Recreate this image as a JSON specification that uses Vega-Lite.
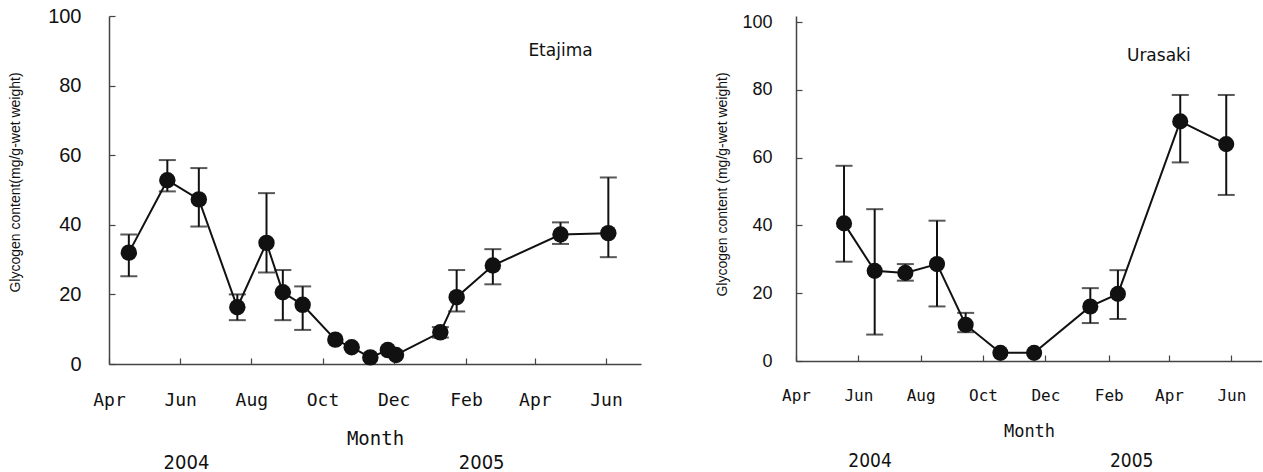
{
  "$schema": "https://vega.github.io/schema/vega-lite/v6.json",
  "background": "white",
  "padding": {"left": 8, "top": 6, "right": 0, "bottom": 0},
  "spacing": 74,
  "config": {
    "view": {"stroke": null},
    "axis": {"grid": false, "domainColor": "#444", "tickColor": "#444", "domainWidth": 1.5, "tickWidth": 1.2, "labelColor": "#111", "titleColor": "#111", "titleFontWeight": "normal"}
  },
  "datasets": {
    "etajima": [
      {"date": "2004-04-18", "mean": 32.0, "lo": 25.2, "hi": 37.2},
      {"date": "2004-05-21", "mean": 52.8, "lo": 49.6, "hi": 58.6},
      {"date": "2004-06-17", "mean": 47.3, "lo": 39.5, "hi": 56.3},
      {"date": "2004-07-20", "mean": 16.3, "lo": 12.6, "hi": 20.0},
      {"date": "2004-08-14", "mean": 34.8, "lo": 26.3, "hi": 49.1},
      {"date": "2004-08-28", "mean": 20.6, "lo": 12.6, "hi": 27.0},
      {"date": "2004-09-14", "mean": 17.0, "lo": 9.8, "hi": 22.3},
      {"date": "2004-10-12", "mean": 7.0, "lo": null, "hi": null},
      {"date": "2004-10-26", "mean": 4.8, "lo": null, "hi": null},
      {"date": "2004-11-11", "mean": 1.9, "lo": null, "hi": null},
      {"date": "2004-11-26", "mean": 4.0, "lo": null, "hi": null},
      {"date": "2004-12-03", "mean": 2.6, "lo": null, "hi": null},
      {"date": "2005-01-10", "mean": 9.1, "lo": 7.6, "hi": 10.6},
      {"date": "2005-01-24", "mean": 19.2, "lo": 15.1, "hi": 27.0},
      {"date": "2005-02-24", "mean": 28.3, "lo": 22.9, "hi": 33.0},
      {"date": "2005-04-23", "mean": 37.2, "lo": 34.5, "hi": 40.7},
      {"date": "2005-06-03", "mean": 37.6, "lo": 30.7, "hi": 53.6}
    ],
    "urasaki": [
      {"date": "2004-05-18", "mean": 40.6, "lo": 29.3, "hi": 57.6},
      {"date": "2004-06-17", "mean": 26.6, "lo": 7.8, "hi": 44.8},
      {"date": "2004-07-17", "mean": 26.0, "lo": 23.7, "hi": 28.6},
      {"date": "2004-08-17", "mean": 28.6, "lo": 16.1, "hi": 41.4},
      {"date": "2004-09-14", "mean": 10.7, "lo": 8.5, "hi": 14.2},
      {"date": "2004-10-18", "mean": 2.4, "lo": null, "hi": null},
      {"date": "2004-11-20", "mean": 2.4, "lo": null, "hi": null},
      {"date": "2005-01-14", "mean": 16.1, "lo": 11.2, "hi": 21.5},
      {"date": "2005-02-10", "mean": 19.8, "lo": 12.4, "hi": 26.8},
      {"date": "2005-04-12", "mean": 70.7, "lo": 58.6, "hi": 78.5},
      {"date": "2005-05-27", "mean": 64.0, "lo": 49.0, "hi": 78.5}
    ],
    "site_eta": [{"date": "2005-04-23", "y": 90, "site": "Etajima"}],
    "site_ura": [{"date": "2005-03-22", "y": 90, "site": "Urasaki"}],
    "years_eta": [{"date": "2004-06-06", "year": "2004"}, {"date": "2005-02-14", "year": "2005"}],
    "years_ura": [{"date": "2004-06-12", "year": "2004"}, {"date": "2005-02-23", "year": "2005"}]
  },
  "hconcat": [
    {
      "width": 532,
      "height": 348,
      "layer": [
        {
          "encoding": {
            "x": {
              "field": "date", "type": "temporal",
              "scale": {"domain": ["2004-04-01T00:00:00", "2005-07-01T00:00:00"]},
              "axis": {
                "title": "Month", "format": "%b",
                "values": [{"year": 2004, "month": 4, "date": 1}, {"year": 2004, "month": 6, "date": 1}, {"year": 2004, "month": 8, "date": 1}, {"year": 2004, "month": 10, "date": 1}, {"year": 2004, "month": 12, "date": 1}, {"year": 2005, "month": 2, "date": 1}, {"year": 2005, "month": 4, "date": 1}, {"year": 2005, "month": 6, "date": 1}],
                "tickSize": -6, "labelPadding": 33, "labelFont": "DejaVu Sans Mono", "labelFontSize": 18,
                "titleFont": "DejaVu Sans Mono", "titleFontSize": 19, "titlePadding": 20, "labelFlush": false, "labelOverlap": false
              }
            }
          },
          "layer": [
            {
              "data": {"name": "etajima"},
              "transform": [{"filter": "isValid(datum.lo)"}],
              "mark": {"type": "errorbar", "color": "#111", "ticks": {"size": 17, "thickness": 2}, "rule": {"strokeWidth": 2}},
              "encoding": {
                "y": {
                  "field": "lo", "type": "quantitative",
                  "scale": {"domain": [0, 100]},
                  "axis": {
                    "title": "Glycogen content(mg/g-wet weight)", "values": [0, 20, 40, 60, 80, 100],
                    "tickSize": -6, "labelPadding": 34, "labelFont": "Liberation Sans", "labelFontSize": 20,
                    "titleFont": "Liberation Sans", "titleFontSize": 14, "titlePadding": 25, "titleY": 166
                  }
                },
                "y2": {"field": "hi"}
              }
            },
            {
              "data": {"name": "etajima"},
              "mark": {"type": "line", "color": "#111", "strokeWidth": 2},
              "encoding": {"y": {"field": "mean", "type": "quantitative", "axis": {"title": "Glycogen content(mg/g-wet weight)"}}}
            },
            {
              "data": {"name": "etajima"},
              "mark": {"type": "point", "filled": true, "opacity": 1, "color": "#111", "size": 270},
              "encoding": {"y": {"field": "mean", "type": "quantitative", "axis": {"title": "Glycogen content(mg/g-wet weight)"}}}
            },
            {
              "data": {"name": "site_eta"},
              "mark": {"type": "text", "font": "DejaVu Sans", "fontSize": 17, "color": "#111"},
              "encoding": {"y": {"field": "y", "type": "quantitative", "axis": {"title": "Glycogen content(mg/g-wet weight)"}}, "text": {"field": "site"}}
            }
          ]
        },
        {
          "data": {"name": "years_eta"},
          "mark": {"type": "text", "opacity": 0},
          "encoding": {
            "x": {
              "field": "date", "type": "temporal",
              "axis": {
                "orient": "bottom", "title": null, "domain": false, "ticks": false,
                "values": [{"year": 2004, "month": 6, "date": 6}, {"year": 2005, "month": 2, "date": 14}],
                "labelExpr": "timeFormat(datum.value, '%Y')", "labelPadding": 88,
                "labelFont": "DejaVu Sans Condensed, Liberation Sans", "labelFontSize": 20, "labelFlush": false
              }
            },
            "text": {"field": "year"}
          }
        }
      ],
      "resolve": {"axis": {"x": "independent"}}
    },
    {
      "width": 466,
      "height": 345,
      "layer": [
        {
          "encoding": {
            "x": {
              "field": "date", "type": "temporal",
              "scale": {"domain": ["2004-04-01T00:00:00", "2005-07-01T00:00:00"]},
              "axis": {
                "title": "Month", "format": "%b",
                "values": [{"year": 2004, "month": 4, "date": 1}, {"year": 2004, "month": 6, "date": 1}, {"year": 2004, "month": 8, "date": 1}, {"year": 2004, "month": 10, "date": 1}, {"year": 2004, "month": 12, "date": 1}, {"year": 2005, "month": 2, "date": 1}, {"year": 2005, "month": 4, "date": 1}, {"year": 2005, "month": 6, "date": 1}],
                "tickSize": -6, "labelPadding": 32, "labelFont": "DejaVu Sans Mono", "labelFontSize": 16,
                "titleFont": "DejaVu Sans Mono", "titleFontSize": 17, "titlePadding": 20, "labelFlush": false, "labelOverlap": false
              }
            }
          },
          "layer": [
            {
              "data": {"name": "urasaki"},
              "transform": [{"filter": "isValid(datum.lo)"}],
              "mark": {"type": "errorbar", "color": "#111", "ticks": {"size": 17, "thickness": 2}, "rule": {"strokeWidth": 2}},
              "encoding": {
                "y": {
                  "field": "lo", "type": "quantitative",
                  "scale": {"domain": [0, 101.8], "nice": false},
                  "axis": {
                    "title": "Glycogen content (mg/g-wet weight)", "values": [0, 20, 40, 60, 80, 100],
                    "tickSize": -6, "labelPadding": 30, "labelFont": "Liberation Sans", "labelFontSize": 18,
                    "titleFont": "Liberation Sans", "titleFontSize": 14, "titlePadding": 12, "titleY": 168
                  }
                },
                "y2": {"field": "hi"}
              }
            },
            {
              "data": {"name": "urasaki"},
              "mark": {"type": "line", "color": "#111", "strokeWidth": 2},
              "encoding": {"y": {"field": "mean", "type": "quantitative", "axis": {"title": "Glycogen content (mg/g-wet weight)"}}}
            },
            {
              "data": {"name": "urasaki"},
              "mark": {"type": "point", "filled": true, "opacity": 1, "color": "#111", "size": 260},
              "encoding": {"y": {"field": "mean", "type": "quantitative", "axis": {"title": "Glycogen content (mg/g-wet weight)"}}}
            },
            {
              "data": {"name": "site_ura"},
              "mark": {"type": "text", "font": "DejaVu Sans", "fontSize": 17, "color": "#111"},
              "encoding": {"y": {"field": "y", "type": "quantitative", "axis": {"title": "Glycogen content (mg/g-wet weight)"}}, "text": {"field": "site"}}
            }
          ]
        },
        {
          "data": {"name": "years_ura"},
          "mark": {"type": "text", "opacity": 0},
          "encoding": {
            "x": {
              "field": "date", "type": "temporal",
              "axis": {
                "orient": "bottom", "title": null, "domain": false, "ticks": false,
                "values": [{"year": 2004, "month": 6, "date": 12}, {"year": 2005, "month": 2, "date": 23}],
                "labelExpr": "timeFormat(datum.value, '%Y')", "labelPadding": 90,
                "labelFont": "DejaVu Sans Condensed, Liberation Sans", "labelFontSize": 19, "labelFlush": false
              }
            },
            "text": {"field": "year"}
          }
        }
      ],
      "resolve": {"axis": {"x": "independent"}}
    }
  ]
}
